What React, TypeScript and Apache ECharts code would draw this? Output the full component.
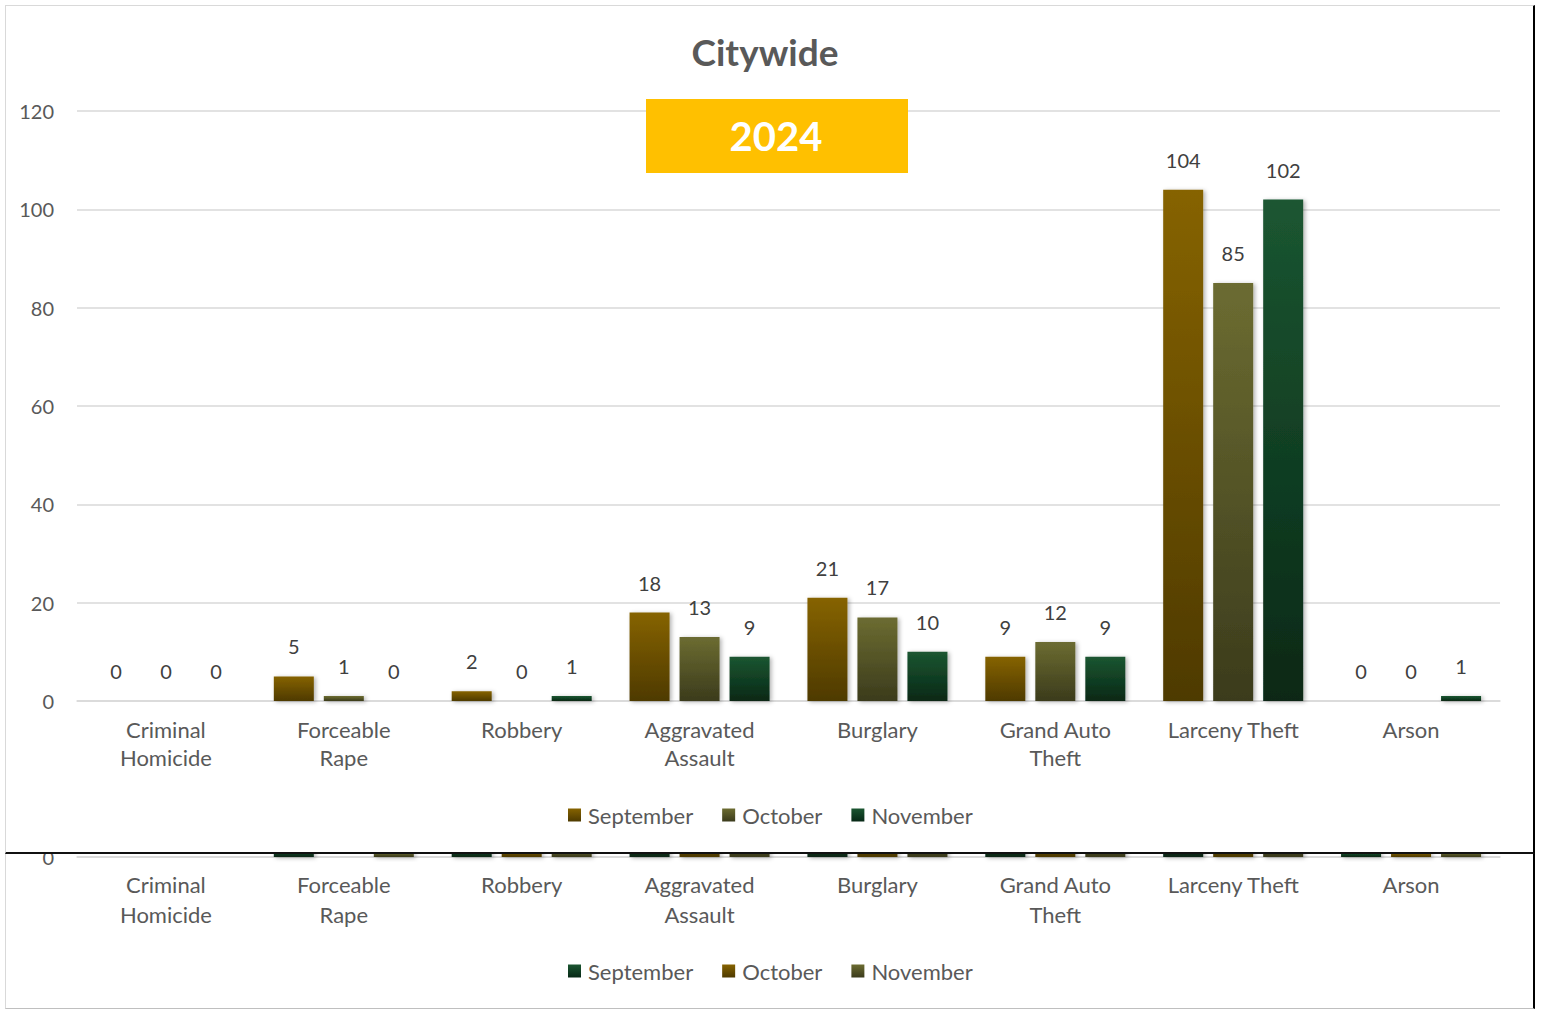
import React, { useEffect, useRef } from "react";
import * as echarts from "echarts";

const categories = [
  "Criminal\nHomicide",
  "Forceable\nRape",
  "Robbery",
  "Aggravated\nAssault",
  "Burglary",
  "Grand Auto\nTheft",
  "Larceny Theft",
  "Arson",
];
const months = ["September", "October", "November"];
const september = [0, 5, 2, 18, 21, 9, 104, 0];
const october = [0, 1, 0, 13, 17, 12, 85, 0];
const november = [0, 0, 1, 9, 10, 9, 102, 1];
const yTicks = { min: 0, max: 120, interval: 20 };

// second (partly hidden) chart underneath
const lowerSeptember = [0, 2, 3, 16, 19, 11, 98, 1];
const lowerOctober = [0, 0, 2, 14, 15, 10, 90, 1];
const lowerNovember = [0, 1, 2, 12, 14, 9, 95, 1];

const FONT = "Lato, 'Open Sans', sans-serif";

const grad = (top: string, bottom: string) =>
  new echarts.graphic.LinearGradient(0, 0, 0, 1, [
    { offset: 0, color: top },
    { offset: 1, color: bottom },
  ]);

const BROWN = ["#866300", "#4e3a00"];
const OLIVE = ["#6c6c31", "#3b3b1c"];
const GREEN = ["#1b5631", "#072816"];

function barSeries(name: string, data: number[], colors: string[], labels: boolean) {
  return {
    name,
    type: "bar",
    data,
    barWidth: 40,
    barGap: "25%",
    itemStyle: {
      color: grad(colors[0], colors[1]),
      shadowBlur: 4,
      shadowColor: "rgba(0,0,0,0.3)",
      shadowOffsetX: 2,
      shadowOffsetY: 1,
    },
    label: {
      show: labels,
      position: "top",
      distance: 20,
      color: "#404040",
      fontFamily: FONT,
      fontSize: 20,
    },
  };
}

function baseAxes(top: number, bottom: number, lineHeight: number, margin: number) {
  return {
    grid: { left: 77, right: 41, top, bottom, containLabel: false },
    xAxis: {
      type: "category",
      data: categories,
      axisLine: { show: true, lineStyle: { color: "#d9d9d9", width: 1.5 } },
      axisTick: { show: false },
      axisLabel: {
        interval: 0,
        margin,
        color: "#595959",
        fontFamily: FONT,
        fontSize: 22,
        lineHeight,
      },
    },
    yAxis: {
      type: "value",
      min: yTicks.min,
      max: yTicks.max,
      interval: yTicks.interval,
      axisLine: { show: false },
      axisTick: { show: false },
      splitLine: { lineStyle: { color: "#d9d9d9", width: 1.5 } },
      axisLabel: { margin: 23, color: "#595959", fontFamily: FONT, fontSize: 20 },
    },
  };
}

function legend(top: number) {
  return {
    top,
    left: 563,
    itemWidth: 13,
    itemHeight: 13,
    itemGap: 29,
    icon: "rect",
    data: months,
    textStyle: { color: "#595959", fontFamily: FONT, fontSize: 22, padding: [0, 0, 0, 2] },
  };
}

export default function App() {
  const mainRef = useRef<HTMLDivElement>(null);
  const lowerRef = useRef<HTMLDivElement>(null);

  useEffect(() => {
    const lower = echarts.init(lowerRef.current!, undefined, { renderer: "svg" });
    lower.setOption({
      animation: false,
      backgroundColor: "#ffffff",
      ...baseAxes(269, 1010 - 857, 30, 12),
      legend: legend(955),
      series: [
        barSeries(months[0], lowerSeptember, GREEN, false),
        barSeries(months[1], lowerOctober, BROWN, false),
        barSeries(months[2], lowerNovember, OLIVE, false),
      ],
    });

    const main = echarts.init(mainRef.current!, undefined, { renderer: "svg" });
    main.setOption({
      animation: false,
      backgroundColor: "#ffffff",
      ...baseAxes(111, 853 - 701, 28, 14),
      legend: legend(799),
      graphic: [
        {
          type: "text",
          x: 765,
          y: 51,
          style: {
            text: "Citywide",
            fontFamily: FONT,
            fontSize: 37,
            fontWeight: "bold",
            fill: "#595959",
            align: "center",
            verticalAlign: "middle",
          },
        },
        {
          type: "rect",
          z: 10,
          shape: { x: 646, y: 99, width: 262, height: 74 },
          style: { fill: "#FFC000" },
        },
        {
          type: "text",
          z: 11,
          x: 776,
          y: 136,
          style: {
            text: "2024",
            fontFamily: FONT,
            fontSize: 40,
            fontWeight: "bold",
            fill: "#ffffff",
            align: "center",
            verticalAlign: "middle",
          },
        },
      ],
      series: [
        barSeries(months[0], september, BROWN, true),
        barSeries(months[1], october, OLIVE, true),
        barSeries(months[2], november, GREEN, true),
      ],
    });

    return () => {
      main.dispose();
      lower.dispose();
    };
  }, []);

  return (
    <div style={{ position: "fixed", left: 0, top: 0, width: 1541, height: 1010, background: "#fff" }}>
      <div
        style={{
          position: "absolute",
          left: 5,
          top: 5,
          width: 1530,
          height: 1004,
          boxSizing: "border-box",
          borderLeft: "1px solid #d9d9d9",
          borderBottom: "1px solid #bfbfbf",
          borderRight: "2px solid #000",
          overflow: "hidden",
        }}
      >
        <div ref={lowerRef} style={{ position: "absolute", left: -6, top: -5, width: 1541, height: 1010 }} />
      </div>
      <div
        style={{
          position: "absolute",
          left: 5,
          top: 5,
          width: 1530,
          height: 849,
          boxSizing: "border-box",
          borderLeft: "1px solid #d9d9d9",
          borderTop: "1px solid #d9d9d9",
          borderBottom: "2px solid #111",
          borderRight: "2px solid #000",
          overflow: "hidden",
          background: "#fff",
        }}
      >
        <div ref={mainRef} style={{ position: "absolute", left: -6, top: -6, width: 1541, height: 853 }} />
      </div>
    </div>
  );
}
